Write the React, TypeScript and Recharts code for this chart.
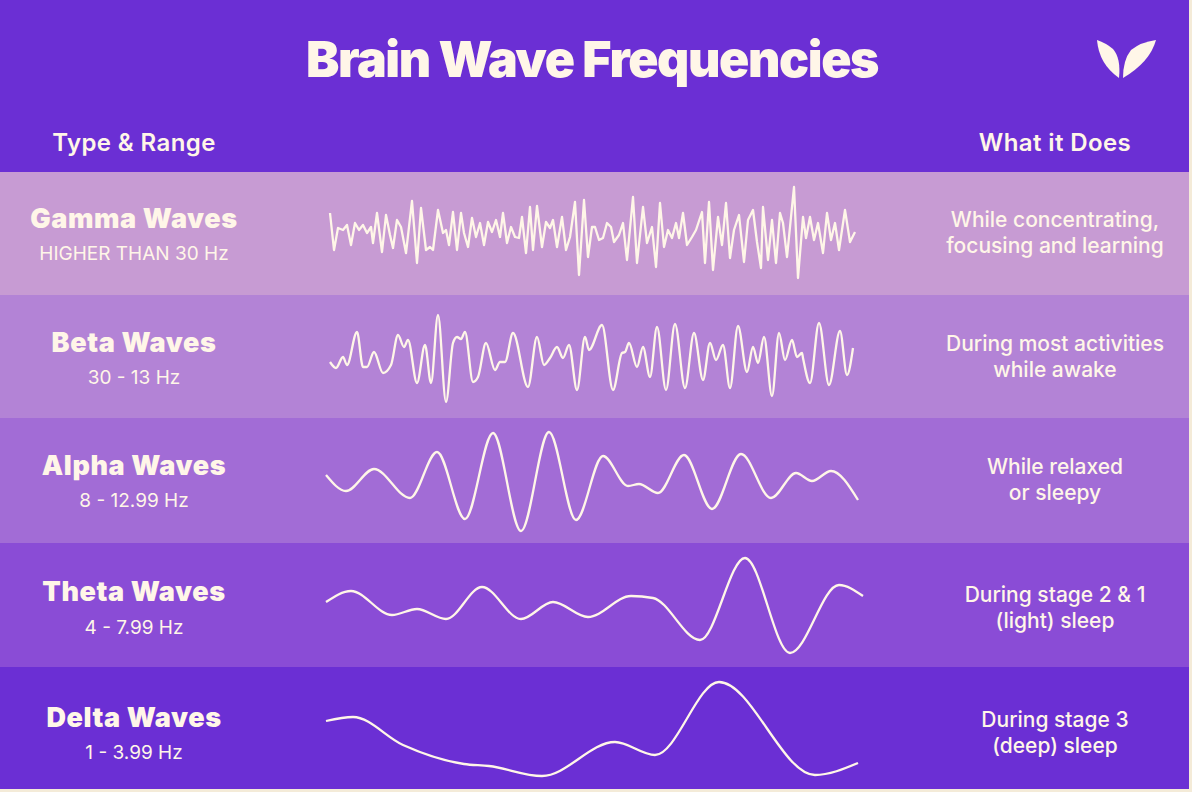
import { Line, LineChart, XAxis, YAxis } from 'recharts';

// wave traces: [time, amplitude]
const gammaTrace: [number, number][] = [
  [5, 20], [9, -17], [13, 5], [18, 3], [22, 8], [26, -12], [30, 10], [34, 3], [38, 8], [42, 0],
  [46, 6], [48, -10], [52, 20], [57, -19], [61, 18], [65, -2], [68, -15], [72, 13], [76, 6], [81, -20],
  [87, 32], [92, -30], [96, 25], [101, -17], [105, -14], [108, -17], [113, 23], [118, 0], [121, 3], [124, -12],
  [128, 21], [132, -17], [136, 20], [139, 0], [143, -14], [147, 15], [151, -4], [155, 10], [159, -12], [163, 11],
  [167, 1], [171, 13], [175, -4], [178, 20], [182, -10], [186, 6], [190, -4], [194, -5], [197, 16], [201, -20],
  [205, 26], [208, -17], [212, 27], [217, -14], [221, 11], [225, 5], [228, 13], [232, -14], [237, 16], [241, -17],
  [245, -4], [250, 31], [254, -42], [259, 33], [263, -24], [267, 6], [270, 6], [274, -7], [278, -5], [282, 10],
  [286, 6], [289, -9], [294, -2], [298, 10], [302, -27], [308, 36], [312, -30], [318, 26], [322, -10], [327, 6],
  [331, -34], [335, 30], [339, -14], [343, 3], [347, -5], [351, 10], [354, -5], [358, 20], [362, -12], [367, -4],
  [371, 3], [377, 21], [380, -30], [384, 31], [388, -37], [393, 16], [397, -12], [401, 30], [405, -25], [409, 3],
  [414, 18], [419, -29], [423, 13], [428, 23], [432, -9], [436, -35], [438, 26], [443, -27], [447, 13], [451, -30],
  [455, 20], [458, 10], [462, -24], [469, 46], [473, -45], [478, 16], [481, -5], [485, 16], [489, -7], [493, 10],
  [498, -20], [502, 20], [506, -7], [510, 10], [514, -17], [520, 23], [525, -9], [530, 1],
];

const betaTrace: [number, number][] = [
  [5, -5], [11, -11], [18, 0], [22, -8], [32, 25], [38, -10], [42, -10], [49, 5], [58, -16], [66, -8],
  [73, 22], [79, 10], [83, 17], [92, -26], [100, 12], [106, -26], [113, 42], [121, -45], [128, 14], [132, 20],
  [136, 18], [140, 25], [148, -25], [153, -20], [161, 14], [170, -13], [175, -5], [180, -5], [188, 24], [203, -30],
  [212, 20], [219, -8], [225, -1], [232, 10], [238, -1], [244, 12], [252, -33], [260, 20], [264, 7], [277, 32],
  [288, -33], [297, 4], [300, 5], [304, 14], [312, -10], [318, 10], [325, -20], [332, 30], [341, -33], [350, 33],
  [360, -31], [369, 24], [378, -23], [385, 14], [391, -3], [398, 12], [405, -31], [413, 31], [422, -15], [428, 10],
  [433, -6], [439, 20], [447, -39], [454, 24], [460, -3], [467, 17], [472, 0], [477, 4], [478, -1], [485, -26],
  [494, 34], [504, -28], [515, 26], [522, -18], [528, 9],
];

const alphaTrace: [number, number][] = [
  [1, 5], [21, -11], [49, 11], [85, -18], [112, 28], [140, -39], [168, 47], [196, -51], [224, 48], [251, -40],
  [278, 24], [303, -6], [314, -4], [333, -13], [359, 25], [387, -29], [416, 26], [446, -18], [471, 7], [487, -1],
  [506, 9], [533, -20],
];

const thetaTrace: [number, number][] = [
  [1, 3], [26, 14], [67, -10], [92, -4], [121, -14], [157, 18], [196, -14], [228, 3], [263, -12], [306, 9],
  [328, 7], [375, -35], [420, 47], [465, -48], [514, 20], [538, 9],
];

const deltaTrace: [number, number][] = [
  [1, 7], [28, 11], [78, -17], [139, -36], [164, -38], [217, -48], [290, -14], [330, -27], [394, 46], [490, -47],
  [533, -35],
];

const waveNames = ['Gamma Waves', 'Beta Waves', 'Alpha Waves', 'Theta Waves', 'Delta Waves'];
const waveRanges = ['HIGHER THAN 30 Hz', '30 - 13 Hz', '8 - 12.99 Hz', '4 - 7.99 Hz', '1 - 3.99 Hz'];
const waveRoles = [
  ['While concentrating,', 'focusing and learning'],
  ['During most activities', 'while awake'],
  ['While relaxed', 'or sleepy'],
  ['During stage 2 & 1', '(light) sleep'],
  ['During stage 3', '(deep) sleep'],
];
const waveTraces = [gammaTrace, betaTrace, alphaTrace, thetaTrace, deltaTrace];
const waveCurves = ['linear', 'monotone', 'monotone', 'monotone', 'monotone'] as const;

const CREAM = '#FFF6E8';
const PANEL_W = 1189;
const rowTops = [172, 295, 418, 543, 667, 789];
const rowColors = ['#C79BD3', '#B383D6', '#A26CD6', '#8A4CD6', '#6B2FD4'];
const rowCenters = [233, 357, 480, 605, 728];
const nameBaselines = [228, 352, 475, 601, 727];
const rangeBaselines = [260, 384, 507, 634, 759];
const roleBaselines = [227, 351, 474, 602, 727];

const FONT = 'Inter, "Noto Sans", sans-serif';

function WaveChart({ trace, curve }: { trace: [number, number][]; curve: 'linear' | 'monotone' }) {
  const data = trace.map(([t, v]) => ({ t, v }));
  return (
    <LineChart width={540} height={124} data={data} margin={{ top: 0, right: 0, bottom: 0, left: 0 }}>
      <XAxis type="number" dataKey="t" domain={[0, 540]} hide />
      <YAxis type="number" domain={[-62, 62]} hide />
      <Line
        type={curve}
        dataKey="v"
        stroke={CREAM}
        strokeWidth={2.3}
        strokeLinejoin="round"
        dot={false}
        activeDot={false}
        isAnimationActive={false}
      />
    </LineChart>
  );
}

export default function App() {
  return (
    <div
      style={{
        position: 'absolute',
        left: 0,
        top: 0,
        width: 1192,
        height: 792,
        background: '#F4EBD8',
        overflow: 'hidden',
        fontFamily: FONT,
      }}
    >
      <div style={{ position: 'absolute', left: 0, top: 0, width: PANEL_W, height: 172, background: '#6B2FD4' }} />
      {rowColors.map((c, i) => (
        <div
          key={c}
          style={{
            position: 'absolute',
            left: 0,
            top: rowTops[i],
            width: PANEL_W,
            height: rowTops[i + 1] - rowTops[i],
            background: c,
          }}
        />
      ))}

      <svg width={1192} height={792} style={{ position: 'absolute', left: 0, top: 0 }}>
        <text x={592} y={77} textAnchor="middle" fill={CREAM} fontSize={50} fontWeight={900} letterSpacing={-1.4}>
          Brain Wave Frequencies
        </text>
        <path d="M1097,40 Q1099,64 1119,78 Q1121,58 1113,49 Q1106,43 1097,40 Z" fill={CREAM} />
        <path d="M1156,40 Q1141,42 1131,50 Q1123,60 1123,78 Q1150,62 1156,40 Z" fill={CREAM} />
        <text x={134} y={151} textAnchor="middle" fill={CREAM} fontSize={24} fontWeight={600} letterSpacing={0.4}>
          Type &amp; Range
        </text>
        <text x={1055} y={151} textAnchor="middle" fill={CREAM} fontSize={24} fontWeight={600} letterSpacing={0.4}>
          What it Does
        </text>
        {waveNames.map((name, i) => (
          <g key={name}>
            <text
              x={134}
              y={nameBaselines[i]}
              textAnchor="middle"
              fill={CREAM}
              fontSize={27}
              fontWeight={900}
              letterSpacing={0.6}
            >
              {name}
            </text>
            <text x={134} y={rangeBaselines[i]} textAnchor="middle" fill={CREAM} fontSize={19} fontWeight={400}>
              {waveRanges[i]}
            </text>
            {waveRoles[i].map((line, j) => (
              <text
                key={line}
                x={1055}
                y={roleBaselines[i] + j * 26}
                textAnchor="middle"
                fill={CREAM}
                fontSize={21}
                fontWeight={500}
              >
                {line}
              </text>
            ))}
          </g>
        ))}
      </svg>

      {waveTraces.map((trace, i) => (
        <div key={waveNames[i]} style={{ position: 'absolute', left: 325, top: rowCenters[i] - 62 }}>
          <WaveChart trace={trace} curve={waveCurves[i]} />
        </div>
      ))}
    </div>
  );
}
